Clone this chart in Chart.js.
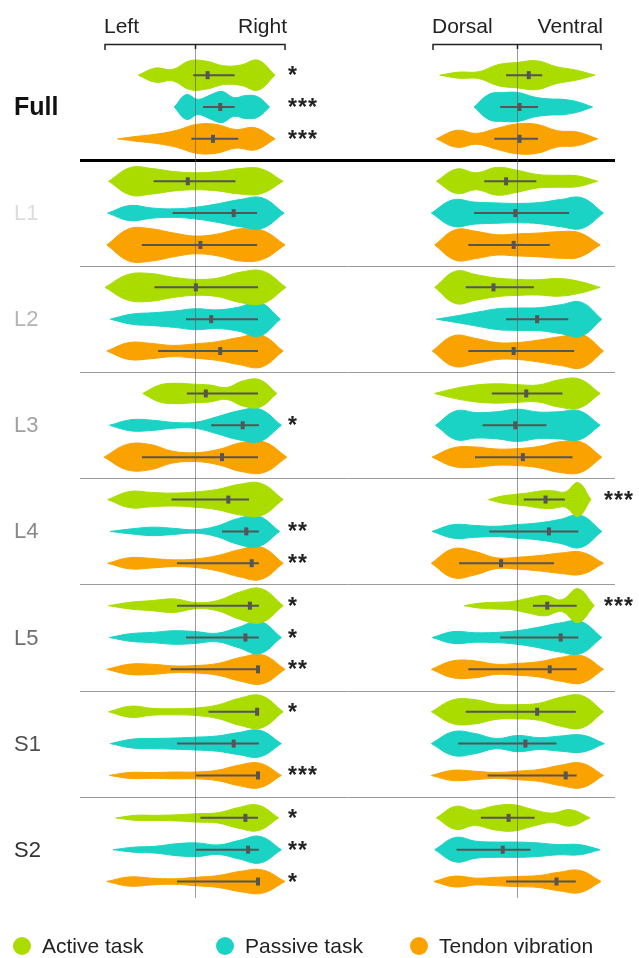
<!DOCTYPE html>
<html>
<head>
<meta charset="utf-8">
<script src="https://cdn.jsdelivr.net/npm/chart.js@4.4.1/dist/chart.umd.min.js"></script>
<style>
  html, body { margin: 0; padding: 0; background: #fff; overflow: hidden; }
  #wrap { width: 639px; height: 958px; position: relative; }
</style>
</head>
<body>
<div id="wrap"><canvas id="chart"></canvas></div>
<script>
// Группы и условия
const groups = ["Full", "L1", "L2", "L3", "L4", "L5", "S1", "S2"];
const conditions = ["Active task", "Passive task", "Tendon vibration"];
const panelLabels = [["Left", "Right"], ["Dorsal", "Ventral"]];

// Left / Right: [min, max] каждой скрипки (порядок: группа x условие)
const lrRange = [
  [-0.63, 0.89], [-0.23, 0.83], [-0.86, 0.89],
  [-0.96, 0.98], [-0.97, 0.99], [-0.98, 1.0],
  [-1.0, 1.01], [-0.94, 0.95], [-0.98, 0.98],
  [-0.58, 0.91], [-0.95, 0.96], [-1.01, 1.02],
  [-0.97, 0.98], [-0.94, 0.94], [-0.97, 0.98],
  [-0.96, 0.98], [-0.95, 0.96], [-0.98, 1.0],
  [-0.96, 0.98], [-0.94, 0.96], [-0.95, 0.96],
  [-0.88, 0.93], [-0.91, 0.96], [-0.98, 1.0]
];
// плотность в 7 равноотстоящих точках между min и max
const lrDensity = [
  [0.42, 0.33, 0.85, 0.82, 0.55, 0.6, 0.88],
  [0.73, 0.45, 0.7, 0.92, 0.55, 0.68, 0.6],
  [0.15, 0.28, 0.5, 0.85, 0.85, 0.55, 0.65],
  [0.81, 0.75, 0.57, 0.5, 0.57, 0.75, 0.73],
  [0.45, 0.3, 0.25, 0.35, 0.55, 0.8, 0.9],
  [0.95, 0.95, 0.7, 0.52, 0.65, 0.95, 0.85],
  [0.75, 0.82, 0.6, 0.47, 0.55, 0.9, 0.95],
  [0.3, 0.38, 0.48, 0.62, 0.55, 0.7, 1.0],
  [0.5, 0.45, 0.33, 0.42, 0.55, 0.8, 0.95],
  [0.5, 0.6, 0.55, 0.5, 0.35, 0.75, 0.8],
  [0.33, 0.3, 0.17, 0.18, 0.5, 0.85, 0.95],
  [0.75, 0.75, 0.35, 0.26, 0.45, 0.85, 0.9],
  [0.48, 0.42, 0.38, 0.45, 0.6, 0.9, 0.95],
  [0.15, 0.25, 0.18, 0.1, 0.3, 0.75, 0.9],
  [0.33, 0.28, 0.2, 0.25, 0.45, 0.8, 0.95],
  [0.2, 0.3, 0.4, 0.18, 0.3, 0.8, 1.0],
  [0.23, 0.3, 0.4, 0.35, 0.25, 0.6, 0.95],
  [0.3, 0.3, 0.2, 0.22, 0.35, 0.7, 0.85],
  [0.33, 0.2, 0.18, 0.22, 0.4, 0.8, 0.95],
  [0.26, 0.3, 0.33, 0.38, 0.45, 0.65, 0.78],
  [0.18, 0.17, 0.2, 0.2, 0.3, 0.6, 0.72],
  [0.15, 0.15, 0.18, 0.25, 0.3, 0.6, 0.75],
  [0.15, 0.2, 0.35, 0.4, 0.28, 0.55, 0.78],
  [0.27, 0.2, 0.16, 0.25, 0.35, 0.6, 0.68]
];
// [нижняя граница, медиана, верхняя граница]
const lrStats = [
  [-0.02, 0.14, 0.44], [0.09, 0.28, 0.44], [-0.04, 0.2, 0.48],
  [-0.46, -0.08, 0.45], [-0.25, 0.43, 0.69], [-0.59, 0.06, 0.69],
  [-0.45, 0.01, 0.7], [-0.1, 0.18, 0.7], [-0.41, 0.28, 0.7],
  [-0.09, 0.12, 0.7], [0.18, 0.53, 0.71], [-0.59, 0.3, 0.7],
  [-0.26, 0.37, 0.6], [0.3, 0.57, 0.71], [-0.2, 0.63, 0.71],
  [-0.2, 0.61, 0.71], [-0.1, 0.56, 0.71], [-0.27, 0.7, 0.7],
  [0.15, 0.69, 0.7], [-0.2, 0.43, 0.71], [0.01, 0.7, 0.71],
  [0.06, 0.56, 0.7], [0.01, 0.59, 0.71], [-0.2, 0.7, 0.7]
];
const lrStars = [
  "*", "***", "***", "", "", "", "", "", "", "", "*", "",
  "", "**", "**", "*", "*", "**", "*", "", "***", "*", "**", "*"
];

// Dorsal / Ventral
const dvRange = [
  [-0.92, 0.93], [-0.51, 0.9], [-0.96, 0.96],
  [-0.96, 0.96], [-1.02, 1.03], [-0.98, 0.99],
  [-0.98, 0.99], [-0.96, 1.01], [-1.01, 1.03],
  [-0.98, 0.99], [-0.97, 0.99], [-1.01, 1.01],
  [-0.34, 0.88], [-1.01, 1.01], [-1.02, 1.03],
  [-0.63, 0.92], [-1.01, 1.01], [-1.02, 1.03],
  [-1.02, 1.03], [-1.02, 1.04], [-1.02, 1.03],
  [-0.96, 0.87], [-0.98, 0.99], [-0.99, 1.0]
];
const dvDensity = [
  [0.18, 0.2, 0.62, 0.75, 0.85, 0.5, 0.3],
  [0.75, 0.85, 0.85, 0.6, 0.48, 0.45, 0.3],
  [0.5, 0.32, 0.62, 0.88, 0.85, 0.48, 0.4],
  [0.72, 0.5, 0.82, 0.65, 0.4, 0.35, 0.32],
  [0.78, 0.65, 0.6, 0.57, 0.62, 0.8, 0.9],
  [0.9, 0.8, 0.6, 0.65, 0.7, 0.78, 0.72],
  [0.95, 0.75, 0.55, 0.47, 0.45, 0.52, 0.35],
  [0.2, 0.42, 0.62, 0.66, 0.68, 0.85, 1.0],
  [0.9, 0.75, 0.5, 0.5, 0.65, 0.85, 0.98],
  [0.3, 0.5, 0.57, 0.52, 0.5, 0.8, 0.85],
  [0.85, 0.75, 0.8, 0.95, 0.78, 0.8, 0.85],
  [0.55, 0.6, 0.48, 0.5, 0.62, 0.9, 0.9],
  [0.2, 0.3, 0.38, 0.5, 0.52, 0.45, 1.0],
  [0.4, 0.35, 0.3, 0.4, 0.5, 0.7, 0.95],
  [0.85, 0.7, 0.32, 0.35, 0.45, 0.6, 0.65],
  [0.15, 0.2, 0.25, 0.45, 0.6, 0.35, 1.0],
  [0.35, 0.28, 0.3, 0.4, 0.6, 0.85, 0.95],
  [0.5, 0.5, 0.3, 0.35, 0.45, 0.7, 0.8],
  [0.7, 0.72, 0.45, 0.42, 0.5, 0.85, 0.95],
  [0.7, 0.6, 0.3, 0.48, 0.35, 0.45, 0.5],
  [0.3, 0.25, 0.17, 0.25, 0.35, 0.6, 0.72],
  [0.68, 0.45, 0.7, 0.78, 0.5, 0.28, 0.48],
  [0.72, 0.5, 0.45, 0.45, 0.4, 0.3, 0.3],
  [0.32, 0.2, 0.25, 0.3, 0.35, 0.55, 0.65]
];
const dvStats = [
  [-0.13, 0.14, 0.3], [-0.2, 0.03, 0.25], [-0.27, 0.03, 0.25],
  [-0.39, -0.13, 0.23], [-0.51, -0.02, 0.62], [-0.58, -0.04, 0.39],
  [-0.61, -0.28, 0.2], [-0.13, 0.24, 0.61], [-0.58, -0.04, 0.68],
  [-0.3, 0.11, 0.54], [-0.41, -0.02, 0.35], [-0.5, 0.07, 0.66],
  [0.08, 0.34, 0.57], [-0.33, 0.38, 0.73], [-0.69, -0.19, 0.44],
  [0.19, 0.36, 0.71], [-0.2, 0.52, 0.73], [-0.58, 0.39, 0.71],
  [-0.61, 0.24, 0.7], [-0.7, 0.1, 0.47], [-0.35, 0.58, 0.71],
  [-0.43, -0.1, 0.21], [-0.72, -0.17, 0.16], [-0.13, 0.47, 0.7]
];
const dvStars = [
  "", "", "", "", "", "", "", "", "", "", "", "",
  "***", "", "", "***", "", "", "", "", "", "", "", ""
];

// Стили
const colors = ["#aadc00", "#1bd3c5", "#faa200"];
const labelColors = ["#111", "#dcdcdc", "#b4b4b4", "#a0a0a0", "#888", "#6e6e6e", "#505050", "#333"];
const HALF = 0.16;    // максимальная полуширина скрипки (в единицах группы)
const ROW = 0.30;     // шаг между скрипками внутри группы
const GROUP_PX = 106.1, FIRST_PX = 107;
const W = 639, H = 958;

const rowY = (g, c) => g + (c - 1) * ROW;

function addViolins(datasets, ranges, dens, stats, xAxisID) {
  ranges.forEach((r, i) => {
    const g = Math.floor(i / 3), c = i % 3;
    const y = rowY(g, c);
    const d = [0, ...dens[i], 0];
    const step = (r[1] - r[0]) / (d.length - 1);
    const top = d.map((v, k) => ({ x: r[0] + k * step, y: y - v * HALF }));
    const bot = d.map((v, k) => ({ x: r[0] + k * step, y: y + v * HALF }));
    const base = {
      xAxisID, yAxisID: "y", showLine: true, pointRadius: 0,
      tension: 0.4, borderColor: colors[c],
      borderWidth: 1, backgroundColor: colors[c], order: 3
    };
    datasets.push({ ...base, data: top, fill: "+1" });
    datasets.push({ ...base, data: bot, fill: false });
    const s = stats[i];
    datasets.push({
      xAxisID, yAxisID: "y", data: [{ x: s[0], y }, { x: s[2], y }],
      showLine: true, borderColor: "#555", borderWidth: 2, pointRadius: 0, fill: false, order: 2
    });
    datasets.push({
      xAxisID, yAxisID: "y", data: [{ x: s[1], y }], showLine: false,
      pointStyle: "line", pointRotation: 90, pointRadius: 4,
      pointBorderWidth: 4, pointBorderColor: "#555", order: 1
    });
  });
}

const datasets = [];
addViolins(datasets, lrRange, lrDensity, lrStats, "xL");
addViolins(datasets, dvRange, dvDensity, dvStats, "xR");

// Подписи, разделители, звёздочки, легенда
const decor = {
  id: "decor",
  beforeDatasetsDraw(chart) {
    const { ctx, scales: { y } } = chart;
    ctx.save();
    for (let g = 1; g < groups.length; g++) {
      const py = Math.round(y.getPixelForValue(g - 0.5)) + 0.5;
      ctx.beginPath();
      ctx.moveTo(80, py);
      ctx.lineTo(615, py);
      ctx.lineWidth = g === 1 ? 3 : 1;
      ctx.strokeStyle = g === 1 ? "#000" : "#9a9a9a";
      ctx.stroke();
    }
    ctx.restore();
  },
  afterDatasetsDraw(chart) {
    const { ctx, scales: { xL, xR, y } } = chart;
    ctx.save();
    const panels = [xL, xR];
    const starsets = [lrStars, dvStars];

    panels.forEach((sc, p) => {
      const cx = Math.round(sc.getPixelForValue(0)) + 0.5;
      const l = sc.getPixelForValue(-1), r = sc.getPixelForValue(1);
      // центральная линия
      ctx.beginPath();
      ctx.moveTo(cx, 44);
      ctx.lineTo(cx, 898);
      ctx.lineWidth = 1;
      ctx.strokeStyle = "rgba(90,90,90,0.6)";
      ctx.stroke();
      // скобка
      ctx.beginPath();
      ctx.moveTo(l, 50); ctx.lineTo(l, 44.5); ctx.lineTo(r, 44.5); ctx.lineTo(r, 50);
      ctx.moveTo(cx, 44.5); ctx.lineTo(cx, 49);
      ctx.lineWidth = 1.5;
      ctx.strokeStyle = "#222";
      ctx.stroke();
      // подписи
      ctx.font = "21px 'Liberation Sans', Arial, sans-serif";
      ctx.fillStyle = "#222";
      ctx.textBaseline = "alphabetic";
      ctx.textAlign = "left";
      ctx.fillText(panelLabels[p][0], l - 1, 33);
      ctx.textAlign = "right";
      ctx.fillText(panelLabels[p][1], r + 2, 33);
      // звёздочки
      ctx.textAlign = "left";
      ctx.font = "bold 23px 'Liberation Sans', Arial, sans-serif";
      ctx.fillStyle = "#222";
      starsets[p].forEach((s, i) => {
        const py = y.getPixelForValue(rowY(Math.floor(i / 3), i % 3));
        for (let k = 0; k < s.length; k++) {
          ctx.fillText("*", r + 3 + k * 10, py + 8);
        }
      });
    });

    // названия групп
    ctx.textAlign = "left";
    ctx.textBaseline = "middle";
    groups.forEach((g, i) => {
      ctx.font = i === 0 ? "bold 25px 'Liberation Sans', Arial, sans-serif"
                         : "22px 'Liberation Sans', Arial, sans-serif";
      ctx.fillStyle = labelColors[i];
      ctx.fillText(g, 14, y.getPixelForValue(i) + 1);
    });

    // легенда
    const lx = [22, 225, 419];
    ctx.font = "21px 'Liberation Sans', Arial, sans-serif";
    conditions.forEach((name, i) => {
      ctx.beginPath();
      ctx.arc(lx[i], 946, 9, 0, Math.PI * 2);
      ctx.fillStyle = colors[i];
      ctx.fill();
      ctx.fillStyle = "#222";
      ctx.fillText(name, lx[i] + 20, 947);
    });
    ctx.restore();
  }
};

new Chart(document.getElementById("chart"), {
  type: "scatter",
  data: { datasets },
  options: {
    responsive: true,
    maintainAspectRatio: false,
    animation: false,
    events: [],
    layout: { padding: 0, autoPadding: false },
    plugins: { legend: { display: false }, tooltip: { enabled: false } },
    scales: {
      xL: { type: "linear", display: false, min: -195 / 90, max: (W - 195) / 90 },
      xR: { type: "linear", display: false, min: -517 / 84, max: (W - 517) / 84 },
      y: { type: "linear", display: false, reverse: true, min: -FIRST_PX / GROUP_PX, max: (H - FIRST_PX) / GROUP_PX }
    }
  },
  plugins: [decor]
});
</script>
</body>
</html>
